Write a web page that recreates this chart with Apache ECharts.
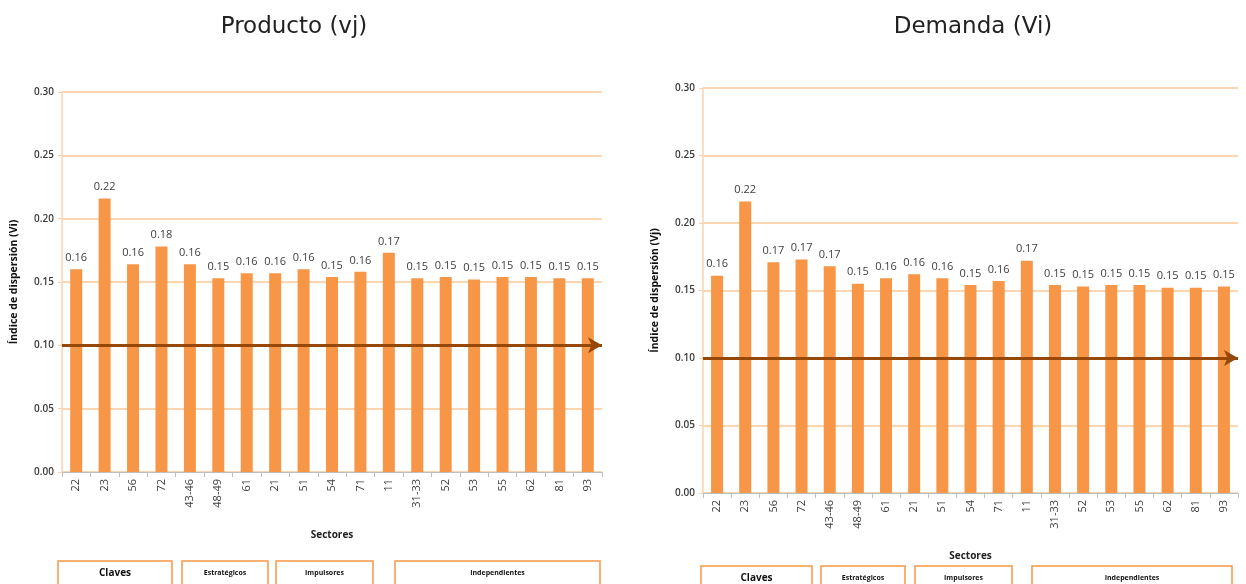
<!DOCTYPE html>
<html>
<head>
<meta charset="utf-8">
<script src="https://cdn.jsdelivr.net/npm/echarts@6/dist/echarts.min.js"></script>
<style>
  html, body { margin: 0; padding: 0; background: #fff; }
  #chart { width: 1246px; height: 584px; }
</style>
</head>
<body>
<div id="chart"></div>
<script>
// datos
const sectores = ['22', '23', '56', '72', '43-46', '48-49', '61', '21', '51', '54', '71', '11', '31-33', '52', '53', '55', '62', '81', '93']
const producto = [0.160, 0.216, 0.164, 0.178, 0.164, 0.153, 0.157, 0.157, 0.160, 0.154, 0.158, 0.173, 0.153, 0.154, 0.152, 0.154, 0.154, 0.153, 0.153]
const demanda = [0.161, 0.216, 0.171, 0.173, 0.168, 0.155, 0.159, 0.162, 0.159, 0.154, 0.157, 0.172, 0.154, 0.153, 0.154, 0.154, 0.152, 0.152, 0.153]
const umbral = 0.10
const grupos = ['Claves', 'Estratégicos', 'Impulsores', 'Independientes']

const naranja = '#F79646'
const grisTexto = '#404040'

const chart = echarts.init(document.getElementById('chart'))

const xAxisBase = (gridIndex) => ({
  type: 'category',
  gridIndex,
  data: sectores,
  name: 'Sectores',
  nameLocation: 'middle',
  nameGap: 58,
  nameTextStyle: { fontFamily: 'Open Sans', fontSize: 10, fontWeight: 'bold', color: '#222' },
  axisLine: { lineStyle: { color: '#bfbfbf' } },
  axisTick: { show: true, alignWithLabel: false, lineStyle: { color: '#bfbfbf' } },
  axisLabel: { rotate: 90, interval: 0, fontFamily: 'Open Sans', fontSize: 11, color: grisTexto, margin: 7 },
})

const yAxisBase = (gridIndex, nombre) => ({
  type: 'value',
  gridIndex,
  min: 0,
  max: 0.3,
  interval: 0.05,
  name: nombre,
  nameLocation: 'middle',
  nameGap: 42,
  nameTextStyle: { fontFamily: 'Open Sans', fontSize: 10.5, fontWeight: 'bold', color: '#111' },
  axisLine: { show: true, lineStyle: { color: '#fbd3b0', width: 1.5 } },
  axisTick: { show: true, length: 4, lineStyle: { color: '#fbd3b0' } },
  axisLabel: { fontFamily: 'Open Sans', fontSize: 10, fontWeight: 600, color: '#3a3a3a', formatter: (v) => v.toFixed(2), margin: 8 },
  splitLine: { lineStyle: { color: '#fbc898', width: 1.5 } },
})

const serie = (idx, data) => ({
  type: 'bar',
  xAxisIndex: idx,
  yAxisIndex: idx,
  data,
  barWidth: 12,
  itemStyle: { color: naranja },
  label: {
    show: true,
    position: 'top',
    distance: 6,
    fontFamily: 'Open Sans',
    fontSize: 11,
    color: grisTexto,
    formatter: (p) => p.value.toFixed(2),
  },
  markLine: {
    silent: true,
    symbol: ['none', 'arrow'],
    symbolSize: [12, 14],
    label: { show: false },
    lineStyle: { color: '#974706', width: 3, type: 'solid' },
    data: [{ yAxis: umbral }],
  },
})

// cajas de grupos
const caja = (x, y, w, texto, grande) => ({
  type: 'group',
  children: [
    {
      type: 'rect',
      shape: { x, y, width: w, height: 30 },
      style: { fill: '#fff', stroke: naranja, lineWidth: 1.5 },
    },
    {
      type: 'text',
      x: x + w / 2,
      y: y + 12,
      style: {
        text: texto,
        font: grande ? 'bold 10px "Open Sans"' : 'bold 7px "Open Sans"',
        fill: '#111',
        align: 'center',
        verticalAlign: 'middle',
      },
    },
  ],
})

chart.setOption({
  animation: false,
  title: [
    { text: 'Producto (vj)', left: 289, top: 11, textAlign: 'center', textStyle: { fontFamily: 'DejaVu Sans', fontSize: 23, fontWeight: 'normal', color: '#222' } },
    { text: 'Demanda (Vi)', left: 968, top: 11, textAlign: 'center', textStyle: { fontFamily: 'DejaVu Sans', fontSize: 23, fontWeight: 'normal', color: '#222' } },
  ],
  grid: [
    { left: 62, right: 644, top: 92, bottom: 112 },
    { left: 703, right: 8, top: 88, bottom: 91 },
  ],
  xAxis: [xAxisBase(0), xAxisBase(1)],
  yAxis: [yAxisBase(0, 'Índice de dispersión (Vi)'), yAxisBase(1, 'Índice de dispersión (Vj)')],
  series: [serie(0, producto), serie(1, demanda)],
  graphic: [
    caja(58, 561, 114, grupos[0], true),
    caja(182, 561, 86, grupos[1], false),
    caja(276, 561, 97, grupos[2], false),
    caja(395, 561, 205, grupos[3], false),
    caja(701, 566, 111, grupos[0], true),
    caja(821, 566, 84, grupos[1], false),
    caja(915, 566, 97, grupos[2], false),
    caja(1032, 566, 200, grupos[3], false),
  ],
})
</script>
</body>
</html>
